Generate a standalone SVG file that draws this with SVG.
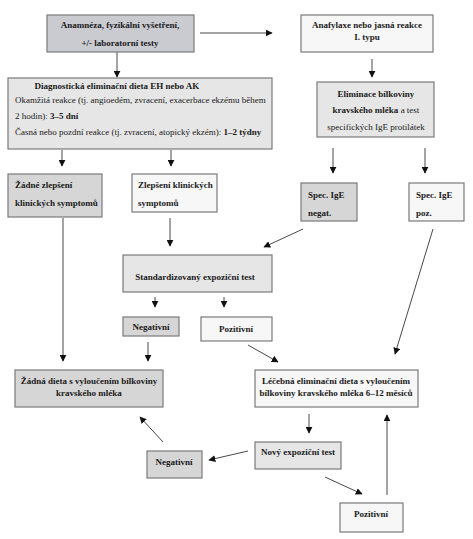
<svg xmlns="http://www.w3.org/2000/svg" width="473" height="539" viewBox="0 0 473 539">
<style>
  .box { stroke: #7a7a7a; stroke-width: 1.2; }
  .g1 { fill: #c9cbd1; }
  .g2 { fill: #e6e6e6; }
  .g3 { fill: #d6d6d6; }
  .w { fill: #f7f7f7; }
  text { font-family: "Liberation Serif", "Times New Roman", serif; font-size: 9px; fill: #1a1a1a; }
  .b { font-weight: bold; }
  .c { text-anchor: middle; }
  .conn line { stroke: #333; stroke-width: 0.9; marker-end: url(#ah); }
  .conn line.nm { marker-end: none; }
</style>
<defs>
  <marker id="ah" viewBox="0 0 10 10" refX="9" refY="5" markerWidth="7" markerHeight="7" markerUnits="userSpaceOnUse" orient="auto">
    <path d="M0,0 L10,5 L0,10 z" fill="#111"/>
  </marker>
</defs>
<rect width="473" height="539" fill="#ffffff"/>

<g id="connectors" class="conn">
  <line x1="200" y1="33" x2="272" y2="33"/>
  <line x1="117" y1="52" x2="117" y2="77"/>
  <line x1="372" y1="59" x2="372" y2="77"/>
  <line x1="62" y1="150" x2="62" y2="166"/>
  <line x1="171" y1="150" x2="171" y2="166"/>
  <line x1="333" y1="148" x2="333" y2="173"/>
  <line x1="425" y1="148" x2="425" y2="173"/>
  <line x1="63" y1="218" x2="63" y2="361"/>
  <line x1="170" y1="218" x2="170" y2="246"/>
  <line x1="303" y1="229" x2="264" y2="247"/>
  <line x1="433" y1="229" x2="395" y2="354"/>
  <line x1="155" y1="297" x2="155" y2="307"/>
  <line x1="224" y1="297" x2="224" y2="307"/>
  <line x1="148" y1="342" x2="148" y2="361"/>
  <line x1="248" y1="345" x2="278" y2="362"/>
  <line x1="309" y1="414" x2="309" y2="433"/>
  <line x1="387" y1="495" x2="387" y2="415"/>
  <line x1="248" y1="451" x2="209" y2="460"/>
  <line x1="163" y1="442" x2="140" y2="417"/>
  <line x1="325" y1="477" x2="362" y2="494"/>
</g>

<g id="n-anamneza">
  <rect class="box g1" x="47" y="15" width="147" height="37"/>
  <text class="b c" x="120" y="28">Anamnéza, fyzikální vyšetření,</text>
  <text class="b c" x="120" y="46">+/- laboratorní testy</text>
</g>

<g id="n-anafylaxe">
  <rect class="box w" x="301" y="15" width="132" height="37"/>
  <text class="b c" x="367" y="28">Anafylaxe nebo jasná reakce</text>
  <text class="b c" x="367" y="40">I. typu</text>
</g>

<g id="n-diagnosticka">
  <rect class="box g2" x="8" y="78" width="264" height="71"/>
  <text class="b c" x="117" y="89">Diagnostická eliminační dieta EH nebo AK</text>
  <text x="15" y="103">Okamžitá reakce (tj. angioedém, zvracení, exacerbace ekzému během</text>
  <text x="15" y="119">2 hodin): <tspan class="b">3–5 dní</tspan></text>
  <text x="15" y="135">Časná nebo pozdní reakce (tj. zvracení, atopický ekzém): <tspan class="b">1–2 týdny</tspan></text>
</g>

<g id="n-eliminace">
  <rect class="box g2" x="317" y="82" width="117" height="55"/>
  <text class="b c" x="376" y="97">Eliminace bílkoviny</text>
  <text class="c" x="376" y="113"><tspan class="b">kravského mléka</tspan> a test</text>
  <text class="c" x="376" y="130">specifických IgE protilátek</text>
</g>

<g id="n-zadne-zlepseni">
  <rect class="box g3" x="8" y="174" width="94" height="43"/>
  <text class="b" x="15" y="188">Žádné zlepšení</text>
  <text class="b" x="15" y="206">klinických symptomů</text>
</g>

<g id="n-zlepseni">
  <rect class="box w" x="132" y="174" width="85" height="38"/>
  <text class="b" x="138" y="188">Zlepšení klinických</text>
  <text class="b" x="138" y="206">symptomů</text>
</g>

<g id="n-spec-negat">
  <rect class="box g3" x="301" y="183" width="56" height="38"/>
  <text class="b" x="308" y="198">Spec. IgE</text>
  <text class="b" x="308" y="216">negat.</text>
</g>

<g id="n-spec-poz">
  <rect class="box w" x="409" y="183" width="55" height="38"/>
  <text class="b" x="416" y="198">Spec. IgE</text>
  <text class="b" x="416" y="216">poz.</text>
</g>

<g id="n-standard">
  <rect class="box g2" x="123" y="255" width="149" height="37"/>
  <text class="b c" x="195" y="280">Standardizovaný expoziční test</text>
</g>

<g id="n-negativni1">
  <rect class="box g3" x="123" y="317" width="56" height="19"/>
  <text class="b c" x="151" y="330">Negativní</text>
</g>

<g id="n-pozitivni1">
  <rect class="box w" x="201" y="317" width="71" height="24"/>
  <text class="b c" x="236" y="332">Pozitivní</text>
</g>

<g id="n-zadna-dieta">
  <rect class="box g3" x="15" y="370" width="148" height="37"/>
  <text class="b c" x="89" y="384">Žádná dieta s vyloučením bílkoviny</text>
  <text class="b c" x="89" y="396">kravského mléka</text>
</g>

<g id="n-lecebna">
  <rect class="box w" x="255" y="370" width="163" height="37"/>
  <text class="b c" x="336" y="384">Léčebná eliminační dieta s vyloučením</text>
  <text class="b c" x="336" y="396">bílkoviny kravského mléka 6–12 měsíců</text>
</g>

<g id="n-novy">
  <rect class="box g2" x="255" y="442" width="86" height="27"/>
  <text class="b c" x="298" y="455">Nový expoziční test</text>
</g>

<g id="n-negativni2">
  <rect class="box g3" x="147" y="451" width="55" height="27"/>
  <text class="b c" x="174" y="465">Negativní</text>
</g>

<g id="n-pozitivni2">
  <rect class="box w" x="340" y="503" width="63" height="29"/>
  <text class="b c" x="371" y="517">Pozitivní</text>
</g>
</svg>
